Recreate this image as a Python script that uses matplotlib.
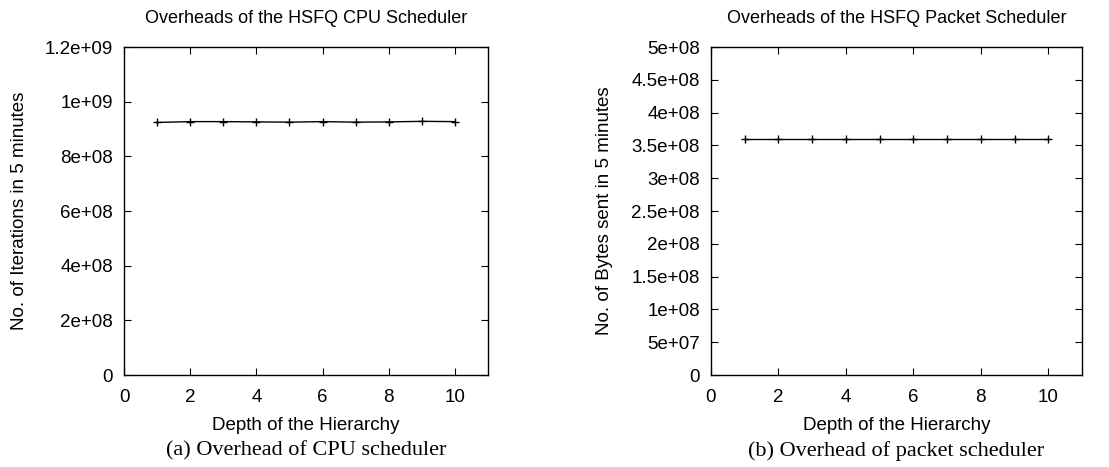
import numpy as np
import matplotlib.pyplot as plt

depth = [1, 2, 3, 4, 5, 6, 7, 8, 9, 10]
cpu_iterations = [9.24e8, 9.27e8, 9.27e8, 9.26e8, 9.25e8, 9.27e8, 9.25e8, 9.26e8, 9.28e8, 9.27e8]
packet_bytes = [3.59e8, 3.59e8, 3.59e8, 3.59e8, 3.59e8, 3.59e8, 3.59e8, 3.59e8, 3.59e8, 3.59e8]

cpu_yticks = [0, 2e8, 4e8, 6e8, 8e8, 1e9, 1.2e9]
cpu_yticklabels = ["0", "2e+08", "4e+08", "6e+08", "8e+08", "1e+09", "1.2e+09"]
pkt_yticks = [0, 5e7, 1e8, 1.5e8, 2e8, 2.5e8, 3e8, 3.5e8, 4e8, 4.5e8, 5e8]
pkt_yticklabels = ["0", "5e+07", "1e+08", "1.5e+08", "2e+08", "2.5e+08", "3e+08",
                   "3.5e+08", "4e+08", "4.5e+08", "5e+08"]
xticks = [0, 2, 4, 6, 8, 10]

plt.rcParams['font.family'] = 'Liberation Sans'

fig = plt.figure(figsize=(11.09, 4.67), dpi=100)
W, H = 1109, 467

ax1 = fig.add_axes([124 / W, 1 - 375 / H, (488 - 124) / W, (375 - 47) / H])
ax2 = fig.add_axes([711 / W, 1 - 375 / H, (1082 - 711) / W, (375 - 47) / H])

panels = [
    (ax1, cpu_iterations, cpu_yticks, cpu_yticklabels, 1.2e9,
     "Overheads of the HSFQ CPU Scheduler", "No. of Iterations in 5 minutes",
     "(a) Overhead of CPU scheduler"),
    (ax2, packet_bytes, pkt_yticks, pkt_yticklabels, 5e8,
     "Overheads of the HSFQ Packet Scheduler", "No. of Bytes sent in 5 minutes",
     "(b) Overhead of packet scheduler"),
]

for ax, vals, yt, ytl, ymax, title, ylabel, caption in panels:
    ax.plot(depth, vals, color='black', linewidth=1.0, marker='+',
            markersize=6, markeredgewidth=1.0)
    ax.set_xlim(0, 11)
    ax.set_ylim(0, ymax)
    ax.set_xticks(xticks)
    ax.set_yticks(yt)
    ax.set_yticklabels(ytl)
    ax.tick_params(direction='in', top=True, right=True, length=5, width=0.8,
                   labelsize=13.5)
    ax.tick_params(axis='x', pad=10)
    ax.tick_params(axis='y', pad=8)
    for s in ax.spines.values():
        s.set_linewidth(1.0)
    ax.set_title(title, fontsize=13, pad=17.5)
    ax.set_xlabel("Depth of the Hierarchy", fontsize=13.5, labelpad=8)
    ax.set_ylabel(ylabel, fontsize=13.5)
    ax.yaxis.set_label_coords(-0.265, 0.5)
    ax.text(0.5, -0.232, caption, transform=ax.transAxes, ha='center', va='center',
            family='Liberation Serif', fontsize=16)

fig.savefig("out.png", dpi=100)
